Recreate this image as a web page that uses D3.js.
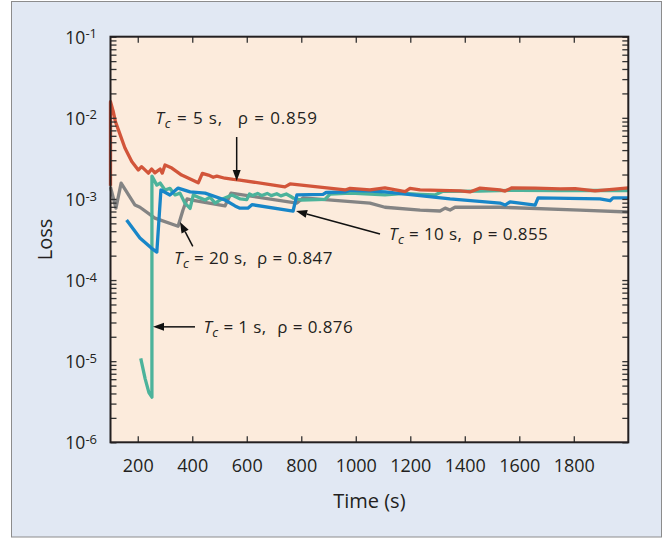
<!DOCTYPE html>
<html><head><meta charset="utf-8">
<script src="https://cdn.jsdelivr.net/npm/d3@7"></script>
<style>
body{margin:0;background:#fff;}
text{font-family:"Open Sans",sans-serif;fill:#231f20;}
</style></head><body>
<svg id="chart" width="671" height="538"></svg>
<script>
// ---- data ----
const xTickValues = [200,400,600,800,1000,1200,1400,1600,1800];
const yExponents = [-6,-5,-4,-3,-2,-1];

// Tc = 5 s (red)
const time5 = [100,100,110,118,129,153,178,202,214,239,251,263,282,290,300,325,361,422,437,459,477,490,520,551,575,740,759,961,979,1052,1107,1181,1199,1236,1383,1419,1456,1529,1548,1573,1658,1750,1805,1878,1951,2000];
const loss5 = [1.45e-3,1.58e-2,1.2e-2,9.0e-3,7.1e-3,4.25e-3,2.9e-3,2.27e-3,2.5e-3,2.08e-3,2.34e-3,2.1e-3,2.34e-3,2.08e-3,2.62e-3,2.4e-3,1.97e-3,1.58e-3,2.07e-3,1.97e-3,1.85e-3,1.91e-3,1.8e-3,1.74e-3,1.71e-3,1.41e-3,1.53e-3,1.29e-3,1.35e-3,1.29e-3,1.37e-3,1.23e-3,1.35e-3,1.29e-3,1.26e-3,1.22e-3,1.36e-3,1.29e-3,1.25e-3,1.37e-3,1.36e-3,1.33e-3,1.34e-3,1.26e-3,1.32e-3,1.37e-3];

// Tc = 1 s (teal)
const time1 = [211,227,241,252,252,270,282,300,318,337,355,373,392,404,428,447,465,484,502,546,576,600,610,622,640,655,675,690,710,725,745,760,772,800,887,906,980,1052,1107,1180,1236,1290,1320,1450,1600,1750,2000];
const loss1 = [1.08e-5,6.1e-6,4.1e-6,3.6e-6,1.91e-3,1.48e-3,1.57e-3,1.29e-3,1.35e-3,1.12e-3,1.18e-3,8.9e-4,7.65e-4,1.12e-3,1.03e-3,9.7e-4,1.05e-3,8.9e-4,9.7e-4,1.12e-3,1.0e-3,9.8e-4,1.15e-3,1.1e-3,1.17e-3,1.1e-3,1.17e-3,1.1e-3,1.16e-3,1.09e-3,1.15e-3,1.08e-3,1.02e-3,9.7e-4,9.9e-4,1.15e-3,1.18e-3,1.15e-3,1.12e-3,1.17e-3,1.14e-3,1.12e-3,1.24e-3,1.25e-3,1.28e-3,1.27e-3,1.27e-3];

// Tc = 10 s (blue)
const time10 = [159,208,251,270,285,318,348,392,447,520,557,575,604,619,770,784,880,891,961,979,1052,1107,1346,1529,1548,1566,1658,1669,1896,1933,1944,2000];
const loss10 = [5.5e-4,3.3e-4,2.46e-4,2.21e-4,1.29e-3,1.12e-3,1.36e-3,1.22e-3,1.18e-3,9.7e-4,8.2e-4,7.7e-4,7.7e-4,8.5e-4,7.1e-4,1.12e-3,1.14e-3,1.2e-3,1.22e-3,1.28e-3,1.25e-3,1.22e-3,1.0e-3,8.9e-4,8.4e-4,9.2e-4,8.4e-4,1.03e-3,1.0e-3,9.5e-4,1.03e-3,1.03e-3];

// Tc = 20 s (gray)
const time20 = [100,120,139,190,208,263,348,366,381,399,520,542,784,806,1052,1107,1236,1309,1328,1346,1364,1529,1823,2000];
const loss20 = [1.4e-3,7.7e-4,1.57e-3,8.4e-4,7.9e-4,5.8e-4,4.6e-4,7.3e-4,1.0e-3,9.7e-4,8.2e-4,1.18e-3,8.9e-4,1.03e-3,8.9e-4,7.9e-4,7.3e-4,7.1e-4,7.7e-4,7.3e-4,7.9e-4,7.9e-4,7.3e-4,6.9e-4];

// annotation labels
const noteTc = ["5","10","20","1"];
const noteRho = ["0.859","0.855","0.847","0.876"];

// ---- layout ----
const plot = {left:110.5, right:628.3, top:36.7, bottom:442.3};
const svg = d3.select("#chart");

svg.append("rect").attr("x",11.5).attr("y",1.5).attr("width",650).attr("height",535.5)
  .attr("fill","#e1e8f3").attr("stroke","#8c8c8c").attr("stroke-width",1);

const x = d3.scaleLinear().domain([100,2000]).range([plot.left, plot.right]);
const y = d3.scaleLog().domain([1e-6,1e-1]).range([plot.bottom, plot.top]);

svg.append("rect").attr("x",plot.left).attr("y",plot.top)
  .attr("width",plot.right-plot.left).attr("height",plot.bottom-plot.top)
  .attr("fill","#fcebdc");

const zip = (t,v) => t.map((d,i)=>({t:d, v:v[i]}));
const series = [
  {pts: zip(time20,loss20), color:"#848484"},
  {pts: zip(time1,loss1), color:"#4cb39b"},
  {pts: zip(time10,loss10), color:"#1886c8"},
  {pts: zip(time5,loss5), color:"#d2553a"}
];
const line = d3.line().x(d=>x(d.t)).y(d=>y(d.v));
svg.append("g").selectAll("path").data(series).join("path")
  .attr("d", d=>line(d.pts)).attr("fill","none")
  .attr("stroke", d=>d.color).attr("stroke-width",3.3)
  .attr("stroke-linejoin","round").attr("stroke-linecap","butt");

// ---- axes ----
const yTicks = [];
yExponents.forEach(e=>{
  yTicks.push(Math.pow(10,e));
  if (e < -1) for (let k=2;k<=9;k++) yTicks.push(k*Math.pow(10,e));
});

function styleAxis(g){
  g.select(".domain").remove();
  g.selectAll(".tick line").attr("stroke","#333").attr("stroke-width",1.3);
}

const xAxis = svg.append("g").attr("transform",`translate(0,${plot.bottom})`)
  .call(d3.axisBottom(x).tickValues(xTickValues).tickSize(-6).tickSizeOuter(0).tickPadding(16.5).tickFormat(d3.format("d")));
styleAxis(xAxis);
xAxis.selectAll("text").style("font-size","18px").attr("fill","#231f20").style("font-family",'"Open Sans",sans-serif');

const xTop = svg.append("g").attr("transform",`translate(0,${plot.top})`)
  .call(d3.axisTop(x).tickValues(xTickValues).tickSize(-6).tickSizeOuter(0).tickFormat(""));
styleAxis(xTop);

const yAxis = svg.append("g").attr("transform",`translate(${plot.left},0)`)
  .call(d3.axisLeft(y).tickValues(yTicks).tickSize(-6).tickSizeOuter(0).tickPadding(13.5).tickFormat(""));
styleAxis(yAxis);
yAxis.selectAll(".tick text").each(function(d){
  const e = Math.round(Math.log10(d));
  if (Math.abs(d - Math.pow(10,e)) > 1e-12) return;
  const t = d3.select(this).attr("dy","0.36em").style("font-size","17.5px")
    .style("font-family",'"Open Sans",sans-serif').attr("fill","#231f20");
  t.append("tspan").text("10");
  t.append("tspan").attr("dy","-0.4em").style("font-size","13px").text(String(e));
});

const yRight = svg.append("g").attr("transform",`translate(${plot.right},0)`)
  .call(d3.axisRight(y).tickValues(yTicks).tickSize(-6).tickSizeOuter(0).tickFormat(""));
styleAxis(yRight);

svg.append("rect").attr("x",plot.left).attr("y",plot.top)
  .attr("width",plot.right-plot.left).attr("height",plot.bottom-plot.top)
  .attr("fill","none").attr("stroke","#231f20").attr("stroke-width",2);

// axis titles
svg.append("text").attr("x",(plot.left+plot.right)/2).attr("y",507.5)
  .attr("text-anchor","middle").style("font-size","20px").text("Time (s)");
svg.append("text").attr("transform",`translate(51.5,${(plot.top+plot.bottom)/2}) rotate(-90)`)
  .attr("text-anchor","middle").style("font-size","20px").text("Loss");

// ---- annotations ----
const notes = [
  {tx:265, ty:8.5e-3, rx:567, ls:0.9, a:[563,5.8e-3,563,1.66e-3]},
  {tx:1122, ty:3.11e-4, rx:1428, ls:0.4, a:[1089,3.7e-4,781,7.1e-4]},
  {tx:333, ty:1.56e-4, rx:638, ls:0.4, a:[402,2.6e-4,355,5.2e-4]},
  {tx:441, ty:2.22e-5, rx:712, ls:0.4, a:[410,2.65e-5,256,2.65e-5]}
];
notes.forEach((n,i)=>{
  const t = svg.append("text").attr("x",x(n.tx)).attr("y",y(n.ty))
    .style("font-size","17px").style("white-space","pre").style("letter-spacing",n.ls+"px");
  t.append("tspan").style("font-style","italic").text("T");
  t.append("tspan").style("font-style","italic").style("font-size","13px").attr("dy",4).text("c");
  t.append("tspan").attr("dy",-4).text(" = " + noteTc[i] + " s,");
  svg.append("text").attr("x",x(n.rx)).attr("y",y(n.ty))
    .style("font-size","17px").style("white-space","pre").style("letter-spacing",n.ls+"px")
    .text("\u03c1 = " + noteRho[i]);
  const x1=x(n.a[0]), y1=y(n.a[1]), x2=x(n.a[2]), y2=y(n.a[3]);
  const ang = Math.atan2(y2-y1, x2-x1), L=11, w=4;
  const bx = x2 - L*Math.cos(ang), by = y2 - L*Math.sin(ang);
  svg.append("line").attr("x1",x1).attr("y1",y1).attr("x2",bx).attr("y2",by)
    .attr("stroke","#111").attr("stroke-width",1.5);
  const px = -Math.sin(ang), py = Math.cos(ang);
  svg.append("path").attr("d",`M${x2},${y2}L${bx+w*px},${by+w*py}L${bx-w*px},${by-w*py}Z`).attr("fill","#111");
});
</script>
</body></html>
